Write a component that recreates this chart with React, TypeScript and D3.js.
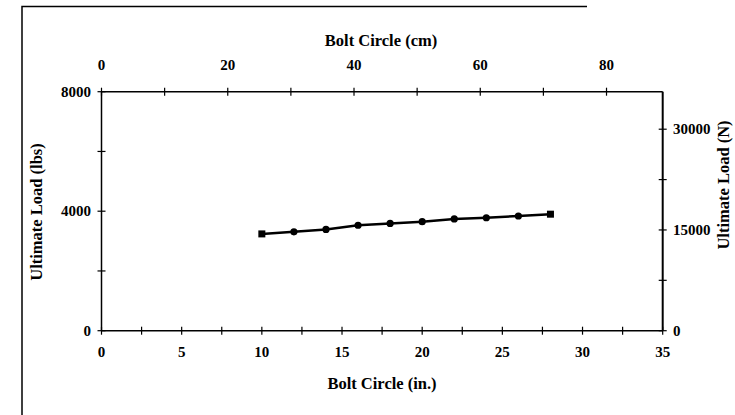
import { useEffect, useRef } from "react";
import * as d3 from "d3";

// bolt circle (in.) and ultimate load (lbs)
const boltCircleIn = [10, 12, 14, 16, 18, 20, 22, 24, 26, 28];
const ultimateLoadLbs = [3240, 3310, 3390, 3530, 3590, 3650, 3740, 3780, 3840, 3900];

const inTicks = [0, 2.5, 5, 7.5, 10, 12.5, 15, 17.5, 20, 22.5, 25, 27.5, 30, 32.5, 35];
const inLabels = [0, 5, 10, 15, 20, 25, 30, 35];
const cmTicks = [0, 10, 20, 30, 40, 50, 60, 70, 80];
const cmLabels = [0, 20, 40, 60, 80];
const lbsTicks = [0, 2000, 4000, 6000, 8000];
const lbsLabels = [0, 4000, 8000];
const nTicks = [0, 7500, 15000, 22500, 30000];
const nLabels = [0, 15000, 30000];

const FONT = "'Liberation Serif', 'Times New Roman', serif";

export default function App() {
  const ref = useRef<SVGSVGElement | null>(null);

  useEffect(() => {
    if (!ref.current) return;
    const width = 735;
    const height = 415;
    const plot = { left: 101.5, right: 662.7, top: 91.7, bottom: 330.7 };

    const svg = d3.select(ref.current).attr("viewBox", `0 0 ${width} ${height}`);
    svg.selectAll("*").remove();

    const x = d3.scaleLinear().domain([0, 35]).range([plot.left, plot.right]);
    const xCm = d3.scaleLinear().domain([0, 35 * 2.54]).range([plot.left, plot.right]);
    const y = d3.scaleLinear().domain([0, 8000]).range([plot.bottom, plot.top]);
    const yN = d3.scaleLinear().domain([0, 8000 * 4.448]).range([plot.bottom, plot.top]);

    /* ---------------- OUTER FRAME ---------------- */
    svg.append("path")
      .attr("d", `M22,415 L22,6.5 L587,6.5`)
      .attr("fill", "none")
      .attr("stroke", "#000")
      .attr("stroke-width", 1.5);

    /* ---------------- AXIS LINES ---------------- */
    const axes = svg.append("g").attr("stroke", "#000").attr("fill", "none");
    axes.append("line")
      .attr("x1", plot.left).attr("x2", plot.right)
      .attr("y1", plot.bottom).attr("y2", plot.bottom).attr("stroke-width", 1.5);
    axes.append("line")
      .attr("x1", plot.left).attr("x2", plot.right)
      .attr("y1", plot.top).attr("y2", plot.top).attr("stroke-width", 1.5);
    axes.append("line")
      .attr("x1", plot.left).attr("x2", plot.left)
      .attr("y1", plot.top).attr("y2", plot.bottom).attr("stroke-width", 1.5);
    axes.append("line")
      .attr("x1", plot.right).attr("x2", plot.right)
      .attr("y1", plot.top).attr("y2", plot.bottom).attr("stroke-width", 2);

    /* ---------------- TICKS ---------------- */
    const t = 4;
    axes.selectAll(".tb").data(inTicks).enter().append("line")
      .attr("x1", d => x(d)).attr("x2", d => x(d))
      .attr("y1", plot.bottom - t).attr("y2", plot.bottom + t).attr("stroke-width", 1.2);
    axes.selectAll(".tt").data(cmTicks).enter().append("line")
      .attr("x1", d => xCm(d)).attr("x2", d => xCm(d))
      .attr("y1", plot.top - t).attr("y2", plot.top + t).attr("stroke-width", 1.2);
    axes.selectAll(".tl").data(lbsTicks).enter().append("line")
      .attr("x1", plot.left - t).attr("x2", plot.left + t)
      .attr("y1", d => y(d)).attr("y2", d => y(d)).attr("stroke-width", 1.2);
    axes.selectAll(".tr").data(nTicks).enter().append("line")
      .attr("x1", plot.right - t).attr("x2", plot.right + t)
      .attr("y1", d => yN(d)).attr("y2", d => yN(d)).attr("stroke-width", 1.2);

    /* ---------------- TICK LABELS ---------------- */
    const labels = svg.append("g")
      .attr("font-family", FONT)
      .attr("font-weight", "bold")
      .attr("font-size", 15)
      .attr("fill", "#000");

    labels.selectAll(".lb").data(inLabels).enter().append("text")
      .attr("x", d => x(d)).attr("y", 357)
      .attr("text-anchor", "middle").text(d => d);
    labels.selectAll(".lt").data(cmLabels).enter().append("text")
      .attr("x", d => xCm(d)).attr("y", 70)
      .attr("text-anchor", "middle").text(d => d);
    labels.selectAll(".ll").data(lbsLabels).enter().append("text")
      .attr("x", 91).attr("y", d => y(d) + 5)
      .attr("text-anchor", "end").text(d => d);
    labels.selectAll(".lr").data(nLabels).enter().append("text")
      .attr("x", 673).attr("y", d => yN(d) + 5)
      .attr("text-anchor", "start").text(d => d);

    /* ---------------- AXIS TITLES ---------------- */
    const titles = svg.append("g")
      .attr("font-family", FONT)
      .attr("font-weight", "bold")
      .attr("font-size", 16.5)
      .attr("fill", "#000")
      .attr("text-anchor", "middle");
    titles.append("text").attr("x", 381).attr("y", 46).text("Bolt Circle (cm)");
    titles.append("text").attr("x", 382).attr("y", 389).text("Bolt Circle (in.)");
    titles.append("text")
      .attr("transform", "translate(42,212) rotate(-90)")
      .text("Ultimate Load (lbs)");
    titles.append("text")
      .attr("transform", "translate(729,185) rotate(-90)")
      .text("Ultimate Load (N)");

    /* ---------------- SERIES ---------------- */
    const pts = boltCircleIn.map((d, i) => [d, ultimateLoadLbs[i]] as [number, number]);
    const line = d3.line<[number, number]>().x(d => x(d[0])).y(d => y(d[1]));
    svg.append("path")
      .datum(pts)
      .attr("fill", "none")
      .attr("stroke", "#000")
      .attr("stroke-width", 2.5)
      .attr("d", line);

    const ends = [pts[0], pts[pts.length - 1]];
    svg.selectAll(".sq").data(ends).enter().append("rect")
      .attr("x", d => x(d[0]) - 3.5).attr("y", d => y(d[1]) - 3.5)
      .attr("width", 7).attr("height", 7).attr("fill", "#000");
    svg.selectAll(".dot").data(pts.slice(1, -1)).enter().append("circle")
      .attr("cx", d => x(d[0])).attr("cy", d => y(d[1]))
      .attr("r", 3.6).attr("fill", "#000");
  }, []);

  return (
    <svg
      ref={ref}
      width={735}
      height={415}
      style={{ position: "absolute", left: 0, top: 0, background: "#fff" }}
    />
  );
}
